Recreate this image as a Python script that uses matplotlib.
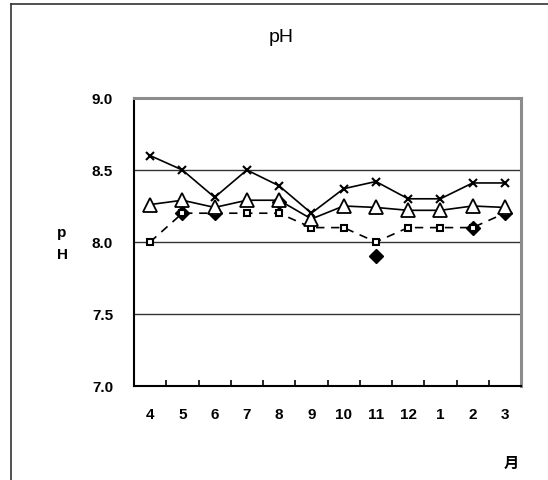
import numpy as np
import matplotlib
matplotlib.use('Agg')
import matplotlib.pyplot as plt
from matplotlib.lines import Line2D

plt.rcParams['font.family'] = ['Liberation Sans', 'Noto Sans CJK JP', 'DejaVu Sans']

# 月 (4月〜3月)
months = ['4', '5', '6', '7', '8', '9', '10', '11', '12', '1', '2', '3']

# 各系列の値
ph_cross = [8.60, 8.50, 8.31, 8.50, 8.39, 8.20, 8.37, 8.42, 8.30, 8.30, 8.41, 8.41]
ph_triangle = [8.26, 8.29, 8.24, 8.29, 8.29, 8.16, 8.25, 8.24, 8.22, 8.22, 8.25, 8.24]
ph_square = [8.00, 8.20, 8.20, 8.20, 8.20, 8.10, 8.10, 8.00, 8.10, 8.10, 8.10, 8.20]
ph_diamond = [np.nan, 8.20, 8.20, np.nan, 8.28, np.nan, np.nan, 7.90, np.nan, np.nan, 8.10, 8.20]

yticks = [7.0, 7.5, 8.0, 8.5, 9.0]

fig = plt.figure(figsize=(5.48, 4.81), dpi=100)
ax = fig.add_axes([134 / 548, 1 - 387 / 481, (521 - 134) / 548, (387 - 99) / 481])

x = np.arange(len(months))

ax.plot(x, ph_diamond, linestyle='none', marker='D', markersize=7,
        color='black', zorder=3)
ax.plot(x, ph_square, color='black', linestyle=(0, (5, 4)), linewidth=1.2,
        marker='s', markersize=5, markerfacecolor='white',
        markeredgecolor='black', markeredgewidth=1.5, zorder=4)
ax.plot(x, ph_triangle, color='black', linewidth=1.2, marker='^',
        markersize=10, markerfacecolor='white', markeredgecolor='black',
        markeredgewidth=1.3, zorder=5)
ax.plot(x, ph_cross, color='black', linewidth=1.2, marker='x',
        markersize=6, markeredgewidth=1.5, zorder=6)

ax.set_xlim(-0.5, len(months) - 0.5)
ax.set_ylim(7.0, 9.0)

ax.set_yticks(yticks)
ax.set_yticklabels([f'{v:.1f}' for v in yticks], fontsize=11, fontweight='bold')
ax.tick_params(axis='y', length=0, pad=15)

ax.set_xticks(x)
ax.set_xticklabels(months, fontsize=11, fontweight='bold')
ax.tick_params(axis='x', which='major', length=0, pad=15)
ax.set_xticks(np.arange(0.5, len(months) - 0.5, 1.0), minor=True)
ax.tick_params(axis='x', which='minor', direction='in', length=4,
               width=1.2, color='black')

for v in [7.5, 8.0, 8.5]:
    ax.axhline(v, color='#333333', linewidth=1.0, zorder=1)

ax.spines['left'].set_color('black')
ax.spines['left'].set_linewidth(1.5)
ax.spines['bottom'].set_color('black')
ax.spines['bottom'].set_linewidth(1.5)
ax.spines['top'].set_color('#8c8c8c')
ax.spines['top'].set_linewidth(2.2)
ax.spines['right'].set_color('#8c8c8c')
ax.spines['right'].set_linewidth(2.2)

fig.text(281 / 548, 1 - 38 / 481, 'pH', fontsize=14, ha='center', va='center')
fig.text(62 / 548, 1 - 233 / 481, 'p', fontsize=11, fontweight='bold',
         ha='center', va='center')
fig.text(62 / 548, 1 - 255 / 481, 'H', fontsize=11, fontweight='bold',
         ha='center', va='center')
fig.text(511 / 548, 1 - 464 / 481, '月', fontsize=11, fontweight='bold',
         ha='center', va='center')

# 外枠 (左と上のみ見えている)
fig.add_artist(Line2D([11 / 548, 11 / 548], [0, 1 - 5 / 481],
                      transform=fig.transFigure, color='#333333', linewidth=1.2))
fig.add_artist(Line2D([11 / 548, 1], [1 - 5 / 481, 1 - 5 / 481],
                      transform=fig.transFigure, color='#333333', linewidth=1.2))

fig.savefig('out.png', dpi=100)
